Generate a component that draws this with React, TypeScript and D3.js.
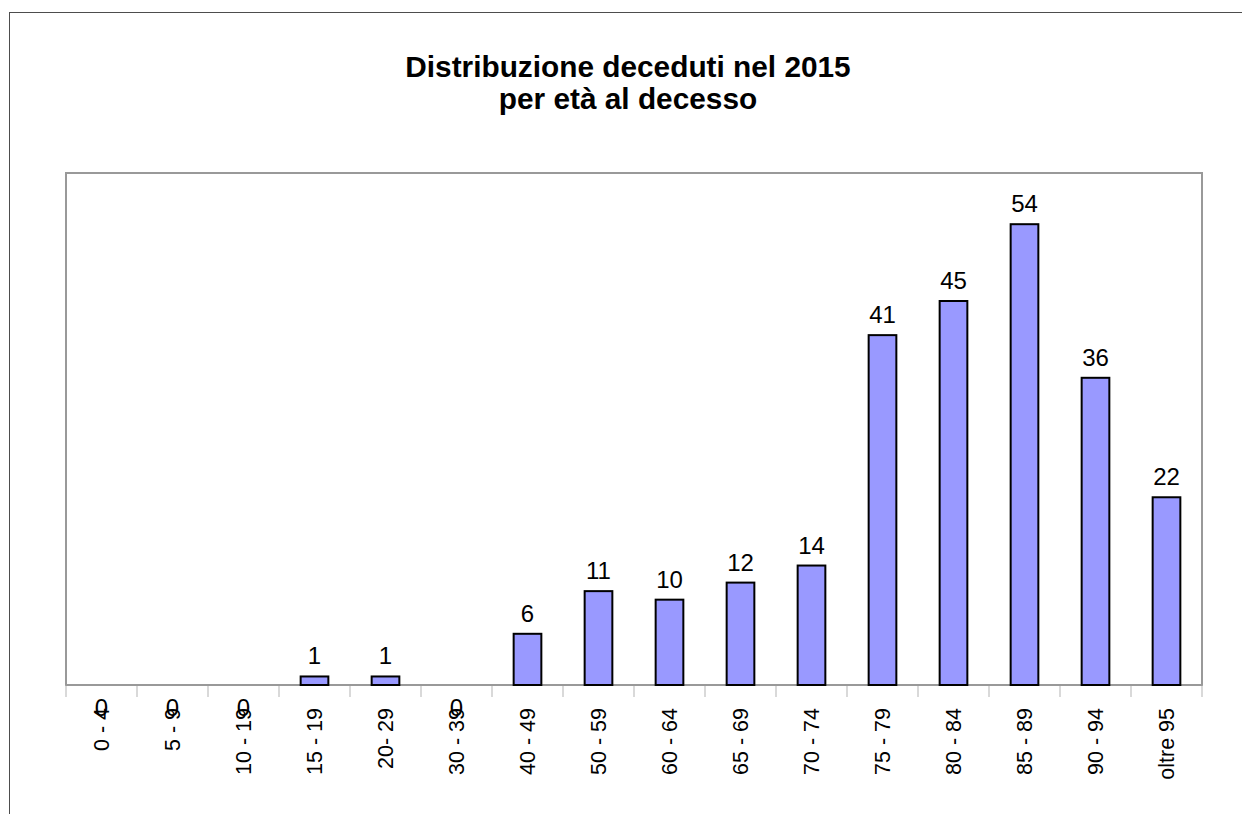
import React, { useEffect, useRef } from 'react'
import * as d3 from 'd3'

const categories = ['0 - 4', '5 - 9', '10 - 19', '15 - 19', '20- 29', '30 - 39', '40 - 49', '50 - 59', '60 - 64', '65 - 69', '70 - 74', '75 - 79', '80 - 84', '85 - 89', '90 - 94', 'oltre 95']
const deceduti = [0, 0, 0, 1, 1, 0, 6, 11, 10, 12, 14, 41, 45, 54, 36, 22]
const titleLines = ['Distribuzione deceduti nel 2015', 'per età al decesso']

export default function App() {
  const ref = useRef<SVGSVGElement>(null)

  useEffect(() => {
    const width = 1242,
      height = 814
    const left = 66,
      right = 1202,
      top = 173,
      bottom = 685
    const font = '"Liberation Sans", Arial, sans-serif'

    const dataset = categories.map((c, i) => ({ c: c, v: deceduti[i] }))

    const svg = d3.select(ref.current)
    svg.selectAll('*').remove()
    svg.attr('width', width).attr('height', height)

    svg.append('rect').attr('width', width).attr('height', height).attr('fill', '#fff')

    // cornice esterna
    svg.append('rect')
      .attr('x', 9.5).attr('y', 12.5)
      .attr('width', width).attr('height', height)
      .attr('fill', 'none').attr('stroke', '#4d4d4d').attr('stroke-width', 1)

    // titolo
    svg.append('g')
      .selectAll('text')
      .data(titleLines)
      .enter()
      .append('text')
      .attr('x', 628)
      .attr('y', (d, i) => 77 + i * 32)
      .attr('text-anchor', 'middle')
      .attr('font-family', font)
      .attr('font-weight', 'bold')
      .attr('font-size', 29.8)
      .text(d => d)

    const xScale = d3.scaleBand<string>()
      .domain(categories)
      .range([left, right])
      .padding(0)

    const yScale = d3.scaleLinear()
      .domain([0, 60])
      .range([bottom, top])

    // area del grafico
    svg.append('rect')
      .attr('x', left).attr('y', top)
      .attr('width', right - left).attr('height', bottom - top)
      .attr('fill', 'none').attr('stroke', '#999').attr('stroke-width', 2)

    // tacche
    const ticks = categories.map(c => xScale(c) as number).concat([right])
    svg.append('g')
      .selectAll('line')
      .data(ticks)
      .enter()
      .append('line')
      .attr('x1', d => d).attr('x2', d => d)
      .attr('y1', bottom).attr('y2', bottom + 12)
      .attr('stroke', '#b3b3b3').attr('stroke-width', 1)

    svg.append('line')
      .attr('x1', left).attr('x2', right)
      .attr('y1', bottom).attr('y2', bottom)
      .attr('stroke', '#999').attr('stroke-width', 2)

    const bw = xScale.bandwidth() * 0.39

    // barre
    svg.append('g')
      .selectAll('rect')
      .data(dataset.filter(d => d.v > 0))
      .enter()
      .append('rect')
      .attr('x', d => (xScale(d.c) as number) + xScale.bandwidth() / 2 - bw / 2)
      .attr('y', d => yScale(d.v))
      .attr('width', bw)
      .attr('height', d => bottom - yScale(d.v))
      .attr('fill', '#9999ff')
      .attr('stroke', '#000')
      .attr('stroke-width', 2)

    // etichette asse x
    svg.append('g')
      .selectAll('text')
      .data(categories)
      .enter()
      .append('text')
      .attr('transform', d => 'translate(' + ((xScale(d) as number) + xScale.bandwidth() / 2) + ',' + (bottom + 23) + ') rotate(-90)')
      .attr('text-anchor', 'end')
      .attr('dy', '0.36em')
      .attr('font-family', font)
      .attr('font-size', 21.5)
      .text(d => d)

    // etichette valori
    svg.append('g')
      .selectAll('text')
      .data(dataset)
      .enter()
      .append('text')
      .attr('x', d => (xScale(d.c) as number) + xScale.bandwidth() / 2)
      .attr('y', d => (d.v > 0 ? yScale(d.v) - 12 : yScale(0) + 31))
      .attr('text-anchor', 'middle')
      .attr('font-family', font)
      .attr('font-size', 24)
      .text(d => String(d.v))
  }, [])

  return (
    <div style={{ position: 'fixed', left: 0, top: 0 }}>
      <svg ref={ref}></svg>
    </div>
  )
}
